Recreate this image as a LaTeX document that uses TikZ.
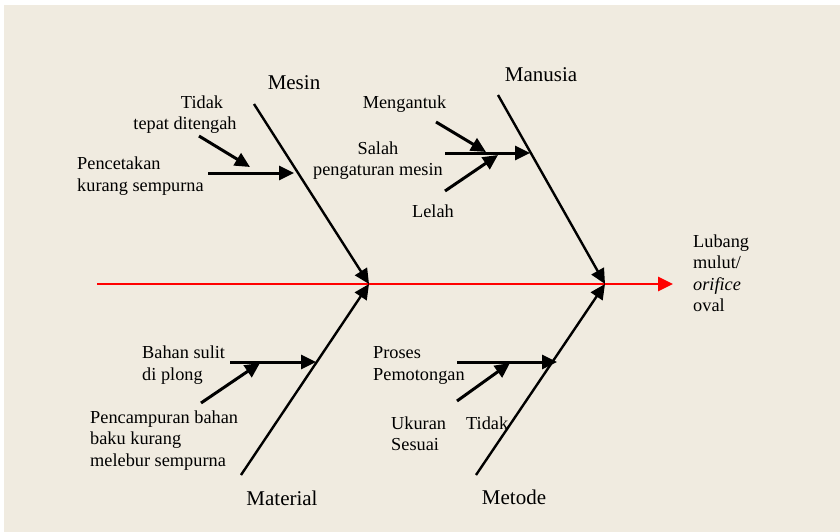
\documentclass[tikz,border=0pt]{standalone}
\usepackage{fontspec}
\setmainfont{Liberation Serif}
\usetikzlibrary{arrows.meta}
\definecolor{paper}{RGB}{240,235,224}

\begin{document}
\begin{tikzpicture}[x=1pt,y=-1pt,
  bone/.style={line width=2.4pt, draw=black},
  twig/.style={line width=3pt, draw=black},
  tip/.style={-{Triangle[length=15pt,width=14pt]}},
  cause/.style={font=\fontsize{18.3}{21.5}\selectfont, inner sep=0pt},
  head/.style={font=\fontsize{21}{25}\selectfont, inner sep=0pt, anchor=base},
 ]
\useasboundingbox (0,0) rectangle (840,532);
\fill[paper] (4,5) rectangle (840,532);

% main spine towards the effect
\coordinate (tail) at (97,284);
\coordinate (effect) at (673,284);
\coordinate (j1) at (369,284);
\coordinate (j2) at (605,284);
\draw[line width=2.6pt, draw=red, fill=red, tip] (tail) -- (effect);

% main bones
\coordinate (mesinTop) at (254,104);
\coordinate (manusiaTop) at (498,95);
\coordinate (materialEnd) at (241,475);
\coordinate (metodeEnd) at (476,475);
\draw[bone, tip] (mesinTop) -- (j1);
\draw[bone, tip] (manusiaTop) -- (j2);
\draw[bone, tip] (materialEnd) -- (j1);
\draw[bone, tip] (metodeEnd) -- (j2);

% bone labels
\node[head] (mesin) at (294,90) {Mesin};
\node[head] (manusia) at (541,81.5) {Manusia};
\node[head] (material) at (282,505) {Material};
\node[head] (metode) at (514,504.3) {Metode};

% effect (multi-line nodes sit on the baseline of their last line)
\node[cause, anchor=base west, align=left] (lubang) at (693,311.7)
  {Lubang\\mulut/\\\textit{orifice}\\oval};

% Mesin causes
\coordinate (pencetakanTail) at (208,173);
\coordinate (pencetakanHead) at (294,173);
\coordinate (tidakTail) at (199,136);
\coordinate (tidakHead) at (250,167);
\draw[twig, tip] (pencetakanTail) -- (pencetakanHead);
\draw[twig, tip] (tidakTail) -- (tidakHead);
\node[cause, anchor=base] (tidakA) at (202,108.3) {Tidak};
\node[cause, anchor=base] (tidakB) at (185,129.3) {tepat ditengah};
\node[cause, anchor=base west, align=left] (pencetakan) at (77,191)
  {Pencetakan\\kurang sempurna};

% Manusia causes
\coordinate (salahTail) at (445,153);
\coordinate (salahHead) at (530,153);
\coordinate (ngantukTail) at (436,122);
\coordinate (ngantukHead) at (486,152);
\coordinate (lelahTail) at (445,191);
\coordinate (lelahHead) at (498,155);
\draw[twig, tip] (salahTail) -- (salahHead);
\draw[twig, tip] (ngantukTail) -- (ngantukHead);
\draw[twig, tip] (lelahTail) -- (lelahHead);
\node[cause, anchor=base] (mengantuk) at (404.5,109) {Mengantuk};
\node[cause, anchor=base, align=center] (salah) at (378,175.7)
  {Salah\\pengaturan mesin};
\node[cause, anchor=base] (lelah) at (433,217.7) {Lelah};

% Material causes
\coordinate (bahanTail) at (230,362);
\coordinate (bahanHead) at (316,362);
\coordinate (campurTail) at (201,403);
\coordinate (campurHead) at (260,363);
\draw[twig, tip] (bahanTail) -- (bahanHead);
\draw[twig, tip] (campurTail) -- (campurHead);
\node[cause, anchor=base west, align=left] (bahan) at (142,380)
  {Bahan sulit\\di plong};
\node[cause, anchor=base west, align=left] (campur) at (90,466)
  {Pencampuran bahan\\baku kurang\\melebur sempurna};

% Metode causes
\coordinate (prosesTail) at (457,362);
\coordinate (prosesHead) at (557,362);
\coordinate (ukuranTail) at (457,401);
\coordinate (ukuranHead) at (510,363);
\draw[twig, tip] (prosesTail) -- (prosesHead);
\draw[twig, tip] (ukuranTail) -- (ukuranHead);
\node[cause, anchor=base west, align=left] (proses) at (373,380)
  {Proses\\Pemotongan};
\node[cause, anchor=base west, align=left] (ukuran) at (391,450.7)
  {Ukuran\\Sesuai};
\node[cause, anchor=base west] (tidakC) at (466,429.3) {Tidak};
\end{tikzpicture}
\end{document}
